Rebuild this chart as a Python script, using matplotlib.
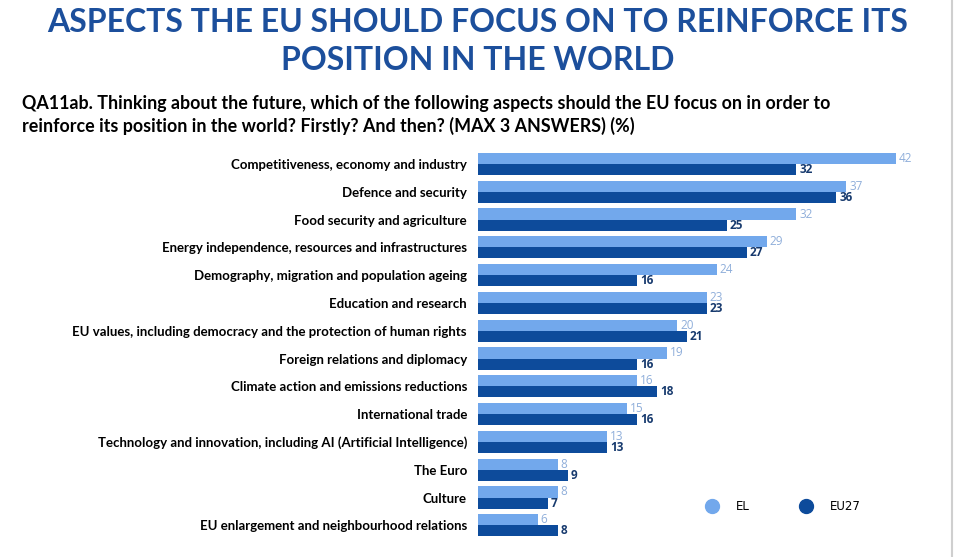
import matplotlib.pyplot as plt
import numpy as np
from matplotlib.lines import Line2D

categories = [
    'Competitiveness, economy and industry',
    'Defence and security',
    'Food security and agriculture',
    'Energy independence, resources and infrastructures',
    'Demography, migration and population ageing',
    'Education and research',
    'EU values, including democracy and the protection of human rights',
    'Foreign relations and diplomacy',
    'Climate action and emissions reductions',
    'International trade',
    'Technology and innovation, including AI (Artificial Intelligence)',
    'The Euro',
    'Culture',
    'EU enlargement and neighbourhood relations',
]
el_values = [42, 37, 32, 29, 24, 23, 20, 19, 16, 15, 13, 8, 8, 6]
eu27_values = [32, 36, 25, 27, 16, 23, 21, 16, 18, 16, 13, 9, 7, 8]
series_names = ['EL', 'EU27']

EL_COLOR = '#72A8EC'
EU_COLOR = '#0D4B9B'
TITLE_COLOR = '#1C4F9C'

W, H = 955, 557
fig = plt.figure(figsize=(W / 100, H / 100), dpi=100)

# axes placed in pixel terms: bars start at x=478, ~9.95 px per point
ax_left, ax_right = 478, 945
ax_top, ax_bottom = 147.3, 542.0
ax = fig.add_axes([ax_left / W, 1 - ax_bottom / H,
                   (ax_right - ax_left) / W, (ax_bottom - ax_top) / H])
ax.set_xlim(0, (ax_right - ax_left) / 9.95)

y = np.arange(len(categories))
off = 0.2
ax.barh(y - off, el_values, height=0.4, color=EL_COLOR)
ax.barh(y + off, eu27_values, height=0.4, color=EU_COLOR)
ax.set_ylim(len(categories) - 0.4, -0.6)

for i in range(len(categories)):
    ax.text(el_values[i] + 0.3, y[i] - off, str(el_values[i]), va='center', ha='left',
            fontsize=8.5, color='#8FAEDA', family='Open Sans')
    ax.text(eu27_values[i] + 0.3, y[i] + off, str(eu27_values[i]), va='center', ha='left',
            fontsize=8.5, color='#173A6E', family='Open Sans', fontweight='bold')

ax.set_yticks(y)
ax.set_yticklabels(categories, fontsize=9.5, fontweight='bold', family='Lato')
ax.tick_params(axis='y', length=0, pad=8)
ax.set_xticks([])
for s in ax.spines.values():
    s.set_visible(False)

# legend
handles = [Line2D([], [], marker='o', linestyle='none', markersize=10, color=EL_COLOR),
           Line2D([], [], marker='o', linestyle='none', markersize=10, color=EU_COLOR)]
fig.legend(handles, series_names, loc='center left', bbox_to_anchor=(700 / W, 1 - 507 / H),
           ncol=2, frameon=False, handletextpad=1.0, columnspacing=3.8,
           prop={'family': 'DejaVu Sans', 'size': 8.5}, borderaxespad=0, borderpad=0)

# titles
title_kw = dict(ha='center', va='center', fontsize=23, fontweight='bold',
                color=TITLE_COLOR, family='Lato')
fig.text(0.5, 1 - 23 / H, 'ASPECTS THE EU SHOULD FOCUS ON TO REINFORCE ITS', **title_kw)
fig.text(0.5, 1 - 60 / H, 'POSITION IN THE WORLD', **title_kw)

sub_kw = dict(ha='left', va='center', fontsize=12.9, fontweight='bold', color='black',
              family='Lato')
fig.text(22 / W, 1 - 103 / H,
         'QA11ab. Thinking about the future, which of the following aspects should the EU focus on in order to',
         **sub_kw)
fig.text(22 / W, 1 - 126 / H,
         'reinforce its position in the world? Firstly? And then? (MAX 3 ANSWERS) (%)',
         **sub_kw)

# right page border
fig.add_artist(Line2D([952 / W, 952 / W], [0, 1], color='#CFCFCF', linewidth=1.5))

fig.savefig('out.png', dpi=100)
